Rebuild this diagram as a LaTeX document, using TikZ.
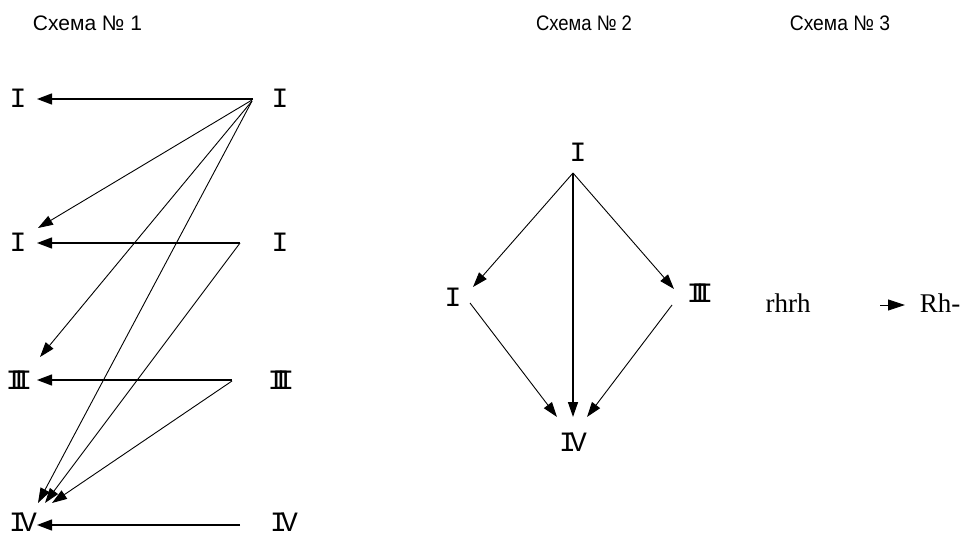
\documentclass[tikz,border=0pt]{standalone}
\usepackage{fontspec}
\setmainfont{Liberation Mono}
\newfontfamily\titlefont{Liberation Sans}
\newfontfamily\labserif{Liberation Serif}
\usetikzlibrary{arrows.meta}
\newcommand\numIII{I\kern-0.43em I\kern-0.43em I}
\newcommand\numIV{I\kern-0.21em V}
\tikzset{
  lab/.style={inner sep=0pt, font=\fontsize{28}{28}\selectfont},
  lab3/.style={inner sep=0pt, font=\labserif\fontsize{27}{27}\selectfont},
  ttl/.style={inner sep=0pt, font=\titlefont\fontsize{21}{21}\selectfont},
  hline/.style={line width=1.3pt, -{Triangle[length=15pt,width=11pt]}},
  dline/.style={line width=0.9pt, -{Triangle[length=15pt,width=10pt]}},
}
\begin{document}
\begin{tikzpicture}[x=1pt,y=-1pt]
\useasboundingbox (0,0) rectangle (960,535);
% titles
\node[ttl] (t1) at (87.5,23) {Схема № 1};
\node[ttl] (t2) at (584,23) {\scalebox{0.88}[1]{Схема № 2}};
\node[ttl] (t3) at (840,23) {\scalebox{0.92}[1]{Схема № 3}};
% scheme 1 labels
\node[lab] (L1) at (18,98) {I};
\node[lab] (R1) at (280,98) {I};
\node[lab] (L2) at (18,242) {I};
\node[lab] (R2) at (280,242) {I};
\node[lab] (L3) at (19,380) {\numIII};
\node[lab] (R3) at (281,380) {\numIII};
\node[lab] (L4) at (23,522) {\numIV};
\node[lab] (R4) at (284,522) {\numIV};
% scheme 1 connectors
\draw[hline] ([shift={(-27,1)}]R1.center) -- ([shift={(19,1)}]L1.center);
\draw[dline] ([shift={(-28,2)}]R1.center) -- ([shift={(20,-14)}]L2.center);
\draw[dline] ([shift={(-28,3)}]R1.center) -- ([shift={(21,-23)}]L3.center);
\draw[dline] ([shift={(-28,3)}]R1.center) -- ([shift={(15,-19)}]L4.center);
\draw[hline] ([shift={(-40,1)}]R2.center) -- ([shift={(19,1)}]L2.center);
\draw[dline] ([shift={(-40,1)}]R2.center) -- ([shift={(22,-19)}]L4.center);
\draw[hline] ([shift={(-49,0)}]R3.center) -- ([shift={(18,0)}]L3.center);
\draw[dline] ([shift={(-49,1)}]R3.center) -- ([shift={(29,-19)}]L4.center);
\draw[hline] ([shift={(-44,3)}]R4.center) -- ([shift={(14,3)}]L4.center);
% scheme 2 labels
\node[lab] (T) at (578,152) {I};
\node[lab] (A) at (453,297) {I};
\node[lab] (B) at (700,293) {\numIII};
\node[lab] (D) at (573,442) {\numIV};
% scheme 2 connectors
\draw[dline] ([shift={(-5,21)}]T.center) -- ([shift={(20,-10)}]A.center);
\draw[dline] ([shift={(-5,21)}]T.center) -- ([shift={(-26,-4)}]B.center);
\draw[dline, line width=1.4pt] ([shift={(-5,21)}]T.center) -- ([shift={(0,-25)}]D.center);
\draw[dline] ([shift={(17,6)}]A.center) -- ([shift={(-16,-25)}]D.center);
\draw[dline] ([shift={(-28,12)}]B.center) -- ([shift={(14,-25)}]D.center);
% scheme 3
\node[lab3] (S1) at (788,303) {rhrh};
\node[lab3] (S2) at (940,303) {Rh-};
\draw[line width=0.9pt, -{Triangle[length=17pt,width=11pt]}] ([shift={(92,2)}]S1.center) -- ([shift={(-35,2)}]S2.center);
\end{tikzpicture}
\end{document}
